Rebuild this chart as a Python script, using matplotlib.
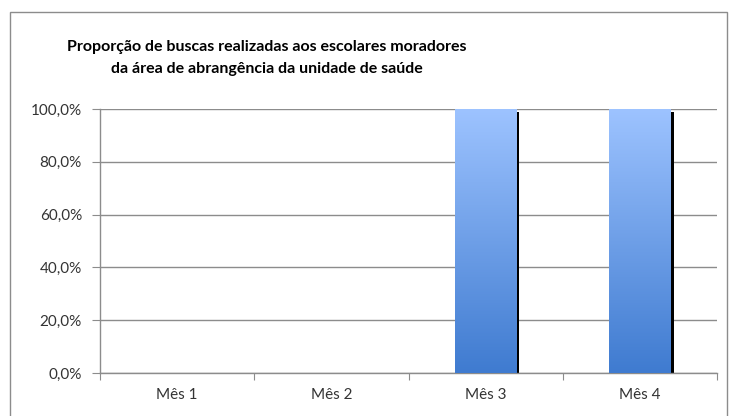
import numpy as np
import matplotlib.pyplot as plt
import matplotlib.transforms as mtransforms
from matplotlib.colors import LinearSegmentedColormap
from matplotlib.patches import Rectangle
from matplotlib.ticker import FuncFormatter, FixedLocator

plt.rcParams["font.family"] = ["Lato", "Open Sans", "DejaVu Sans"]

# Data
categorias = ["Mês 1", "Mês 2", "Mês 3", "Mês 4"]
proporcao = [0.0, 0.0, 1.0, 1.0]
titulo = ("Proporção de buscas realizadas aos escolares moradores\n"
          "da área de abrangência da unidade de saúde")

fig = plt.figure(figsize=(7.29, 4.16), dpi=100)
# outer chart border
fig.patches.append(Rectangle((10 / 729, -0.1), 717 / 729, 1.1 - 12 / 416,
                             transform=fig.transFigure, fill=False,
                             edgecolor="#8c8c8c", linewidth=1.0))

ax = fig.add_axes([100 / 729, 1 - 373 / 416, 617 / 729, 264 / 416])
x = np.arange(len(categorias))
width = 0.40

grad = LinearSegmentedColormap.from_list("g", ["#3f7bd0", "#9dc3ff"])
shadow_tr = mtransforms.offset_copy(ax.transData, fig, x=3, y=-3, units="dots")
for xi, v in zip(x, proporcao):
    if v <= 0:
        continue
    ax.add_patch(Rectangle((xi - width / 2, 0), width, v, transform=shadow_tr,
                           facecolor="black", edgecolor="none", zorder=2,
                           clip_on=True))
    bar = ax.bar(xi, v, width=width, color="none", edgecolor="none", zorder=3)[0]
    img = ax.imshow(np.linspace(0, 1, 256).reshape(-1, 1), cmap=grad,
                    extent=[xi - width / 2, xi + width / 2, 0, v],
                    origin="lower", aspect="auto", zorder=3)
    img.set_clip_path(bar)

ax.set_xlim(-0.5, len(categorias) - 0.5)
ax.set_ylim(0, 1.0)
ax.set_yticks(np.arange(0, 1.01, 0.2))
ax.yaxis.set_major_formatter(FuncFormatter(lambda v, p: f"{v * 100:.1f}%".replace(".", ",")))
ax.xaxis.set_major_locator(FixedLocator(np.arange(-0.5, len(categorias), 1)))
ax.xaxis.set_major_formatter(FuncFormatter(lambda v, p: ""))
ax.xaxis.set_minor_locator(FixedLocator(x))
ax.set_xticklabels(categorias, minor=True)
ax.tick_params(axis="x", which="minor", length=0, pad=11, labelsize=11, labelcolor="#333333")
ax.tick_params(axis="x", which="major", length=5, color="#8c8c8c", direction="out")
ax.tick_params(axis="y", length=6, color="#8c8c8c", labelsize=11, labelcolor="#333333", pad=7)

ax.grid(axis="y", color="#8c8c8c", linewidth=1.0, zorder=1)
ax.set_axisbelow(True)
for s in ["top", "right"]:
    ax.spines[s].set_visible(False)
for s in ["left", "bottom"]:
    ax.spines[s].set_color("#8c8c8c")
    ax.spines[s].set_linewidth(1.0)

fig.text(267 / 729, 1 - 58 / 416, titulo, ha="center", va="center",
         fontsize=11.5, fontweight="bold", linespacing=1.65, color="black")

fig.savefig("out.png", dpi=100)
